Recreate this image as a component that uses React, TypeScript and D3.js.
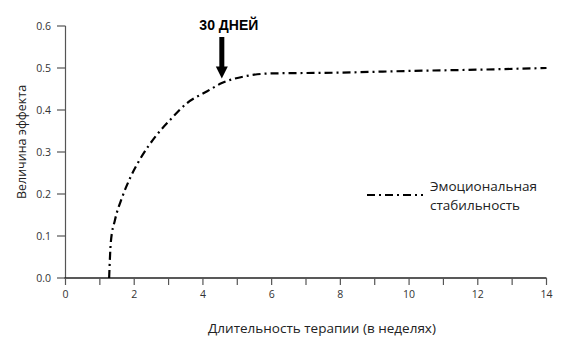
import React from "react";
import * as d3 from "d3";

const weeks = [1.27, 1.32, 1.44, 1.64, 1.88, 2.17, 2.65, 3.04, 3.53, 4.11, 4.55, 5.27, 5.95, 8, 10, 12, 14];
const effect = [0, 0.086, 0.138, 0.19, 0.238, 0.283, 0.34, 0.376, 0.416, 0.444, 0.464, 0.481, 0.487, 0.489, 0.493, 0.496, 0.5];
const xTicks = [0, 1, 2, 3, 4, 5, 6, 7, 8, 9, 10, 11, 12, 13, 14];
const xTickLabels = ["0", "2", "4", "6", "8", "10", "12", "14"];
const yTicks = [0, 0.1, 0.2, 0.3, 0.4, 0.5, 0.6];
const markerWeek = 4.55;
const markerLabel = "30 ДНЕЙ";
const seriesName = ["Эмоциональная", "стабильность"];
const xTitle = "Длительность терапии (в неделях)";
const yTitle = "Величина эффекта";

export default function App() {
  const W = 588, H = 355;
  const x = d3.scaleLinear().domain([0, 14]).range([65.5, 546.5]);
  const y = d3.scaleLinear().domain([0, 0.6]).range([278, 26]);
  const pts: [number, number][] = weeks.map((w, i) => [w, effect[i]]);
  const line = d3.line<[number, number]>().x(d => x(d[0])).y(d => y(d[1])).curve(d3.curveMonotoneX);
  const axisColor = "#555";
  const font = "'Open Sans', 'Liberation Sans', sans-serif";
  const ax = x(markerWeek);
  const tipY = y(0.47) - 2;
  return (
    <svg width={W} height={H} style={{ position: "absolute", left: 0, top: 0, background: "#fff" }}>
      <rect width={W} height={H} fill="#fff" />
      {/* y axis */}
      <line x1={65.5} x2={65.5} y1={y(0.6)} y2={y(0)} stroke={axisColor} strokeWidth={1.2} />
      {yTicks.map(t => (
        <g key={t}>
          <line x1={57} x2={65.5} y1={y(t)} y2={y(t)} stroke={axisColor} strokeWidth={1.2} />
          <text x={51} y={y(t)} dy="0.35em" textAnchor="end" fontSize={10.5} fontFamily={font} fill="#333">{t.toFixed(1)}</text>
        </g>
      ))}
      {/* x axis */}
      <line x1={x(0) - 1} x2={x(14)} y1={y(0)} y2={y(0)} stroke="#222" strokeWidth={1.5} />
      {xTicks.map(t => (
        <line key={t} x1={x(t)} x2={x(t)} y1={y(0)} y2={y(0) + 7} stroke={axisColor} strokeWidth={1.2} />
      ))}
      {xTickLabels.map(l => (
        <text key={l} x={x(+l)} y={298} textAnchor="middle" fontSize={10.5} fontFamily={font} fill="#333">{l}</text>
      ))}
      {/* series */}
      <path d={line(pts) || ""} fill="none" stroke="#000" strokeWidth={2.2} strokeDasharray="8,4,2,4" />
      {/* arrow */}
      <rect x={ax - 2.5} y={37} width={5} height={tipY - 11 - 37} fill="#000" />
      <path d={`M${ax - 6},${tipY - 12} L${ax + 6},${tipY - 12} L${ax},${tipY} Z`} fill="#000" />
      <text x={ax + 7} y={30} textAnchor="middle" fontSize={14} fontWeight="bold" fontFamily="'Liberation Sans', Arial, sans-serif" fill="#000">{markerLabel}</text>
      {/* legend */}
      <line x1={367} x2={423} y1={195} y2={195} stroke="#000" strokeWidth={2.2} strokeDasharray="8,4,2,4" />
      <text x={430} y={191} fontSize={13.5} fontFamily={font} fill="#222">{seriesName[0]}</text>
      <text x={430} y={210} fontSize={13.5} fontFamily={font} fill="#222">{seriesName[1]}</text>
      {/* titles */}
      <text x={322} y={333} textAnchor="middle" fontSize={13.5} fontFamily={font} fill="#222">{xTitle}</text>
      <text transform={`translate(26,142) rotate(-90)`} textAnchor="middle" fontSize={12.5} fontFamily={font} fill="#222">{yTitle}</text>
    </svg>
  );
}
